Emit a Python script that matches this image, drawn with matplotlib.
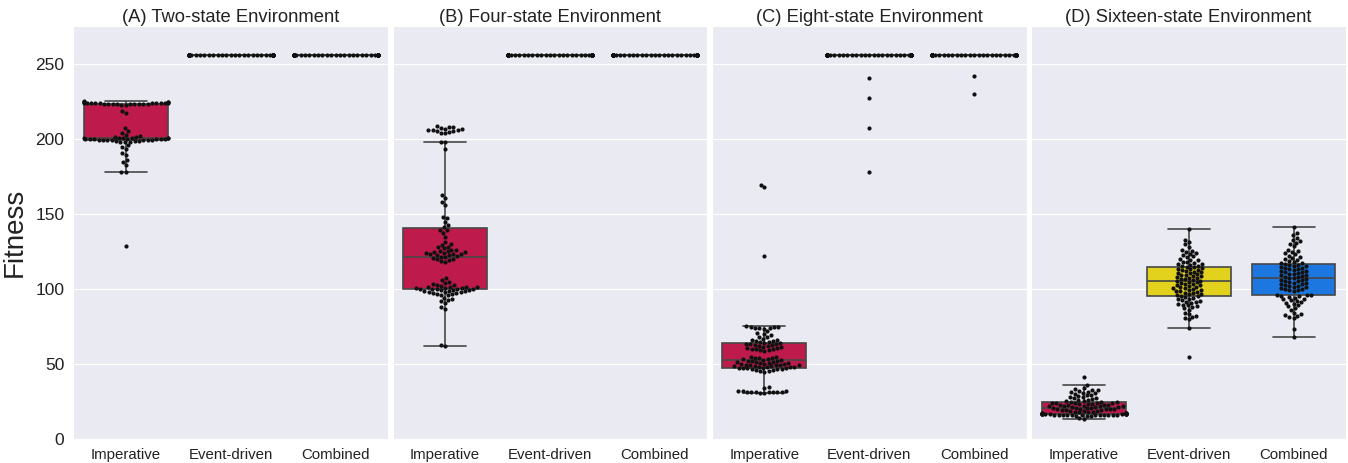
import matplotlib
matplotlib.use("Agg")
import matplotlib.pyplot as plt
import seaborn as sns
import pandas as pd
import warnings
warnings.filterwarnings("ignore")

categories = ["Imperative", "Event-driven", "Combined"]
titles = ["(A) Two-state Environment", "(B) Four-state Environment",
          "(C) Eight-state Environment", "(D) Sixteen-state Environment"]
colors = ["#BE1A4C", "#E2D21E", "#1C78E0"]

all_256 = [256.0] * 100

A_imp = [225.2, 225.0, 224.8, 224.6, 224.5, 224.4, 224.3, 224.2, 224.1, 224.0, 224.0, 223.9,
         223.8, 223.7, 223.6, 223.5, 223.4, 223.3, 223.2, 223.0, 222.8, 224.9, 224.2, 223.6,
         224.0, 223.8,
         219.0, 217.8,
         207.5, 205.5, 204.5,
         203.0, 202.4, 201.8, 201.4, 201.0, 200.8, 200.6, 200.4, 200.2, 200.0, 199.9, 199.8,
         199.6, 199.4, 199.2, 199.0, 198.8, 198.6, 198.4, 198.2, 198.0, 200.7, 200.3, 199.7,
         199.3, 200.9, 200.1, 199.5, 201.1, 200.5,
         196.0, 195.0, 193.5, 191.0, 189.5, 186.0, 185.0, 183.0, 178.5, 178.0,
         129.0]
A_evt = all_256
A_comb = all_256

B_imp = [209.0, 208.5, 208.0, 207.5, 207.0, 206.8, 206.5, 206.2, 206.0, 205.8, 205.5, 205.0,
         204.5, 204.0,
         198.4, 198.0, 193.3,
         162.8, 160.8, 158.2, 156.0,
         148.0, 147.2, 144.8, 143.0, 141.5, 139.6, 139.2,
         137.5, 135.0,
         131.5, 130.5, 129.5, 128.5, 128.0, 127.2, 126.5, 126.0, 125.5, 125.0, 124.6, 124.2,
         123.8, 123.4, 123.0, 122.6, 122.2, 121.8, 121.4, 121.0, 120.5, 120.0, 119.5, 119.0,
         118.5, 124.0, 125.2, 123.2,
         107.5, 106.0, 104.8,
         104.0, 103.5, 103.0, 102.6, 102.2, 101.8, 101.5, 101.2, 101.0, 100.8, 100.5, 100.3,
         100.1, 100.0, 99.9, 99.7, 99.5, 99.3, 99.1, 98.9, 98.7, 98.5, 98.2, 98.0, 97.7, 97.4,
         97.1, 96.8, 96.5, 96.2, 101.6, 100.6,
         94.5, 93.8, 93.0, 92.2, 91.0,
         88.0, 86.8,
         62.8, 62.3]
B_evt = all_256
B_comb = all_256

C_imp = [169.8, 168.5, 122.3,
         75.2, 75.0, 74.8, 74.6, 74.4, 74.2, 74.0, 73.8,
         72.0, 71.0, 70.0, 69.5, 68.5, 68.0, 67.0, 66.5,
         66.0, 65.6, 65.3, 65.0, 64.7, 64.4, 64.1, 63.8, 63.5, 63.2, 62.9, 62.6, 62.3, 62.0,
         61.7, 61.4, 61.1, 60.8, 60.5, 60.2, 59.9, 59.6, 59.3, 59.0,
         55.0, 54.8, 54.5, 54.2, 53.9, 53.6, 53.3, 53.0, 52.7, 52.4, 52.1, 51.8, 51.5, 51.2,
         50.9, 50.6, 50.3, 50.0, 49.8, 49.6, 49.4, 49.2, 49.0, 48.8, 48.6, 48.4, 48.2, 48.0,
         47.8, 47.6, 47.4, 47.2, 47.0, 46.8, 46.6, 50.5, 49.5, 51.0, 52.0, 48.5, 47.5,
         46.2, 45.9, 45.6, 45.3, 45.0,
         34.6, 34.0,
         32.2, 32.0, 31.9, 31.8, 31.7, 31.6, 31.5, 31.4, 31.3, 31.2, 31.1, 31.0]
C_evt = [256.0] * 96 + [241.0, 227.6, 207.2, 178.0]
C_comb = [256.0] * 98 + [242.5, 230.3]

D_imp = [41.5, 36.0,
         34.0, 33.5, 33.0, 32.6, 32.2, 31.8, 31.4, 31.0, 30.6, 30.2,
         29.6, 29.2, 28.8, 28.4, 28.0, 27.6, 27.2, 26.8, 26.4, 26.0,
         25.5, 25.3, 25.1, 24.9, 24.7, 24.5, 24.3, 24.1, 23.9, 23.7, 23.5, 23.3, 23.1, 22.9,
         22.7, 22.5, 22.3, 22.1, 21.9, 21.7, 21.5, 21.3, 21.1, 20.9, 20.7, 20.5, 20.3, 20.1,
         19.9, 19.7, 19.5, 19.3, 19.1, 18.9, 18.7, 18.5, 18.3, 18.1, 17.9, 17.7,
         24.0, 23.0, 22.0, 21.0, 20.0,
         17.5, 17.4, 17.3, 17.2, 17.1, 17.0, 16.9, 16.8, 16.7, 16.6, 16.5, 16.4, 16.3, 16.2,
         16.1, 16.0, 15.9, 15.8, 15.7, 15.6, 17.0, 16.8, 16.6, 16.4, 16.2, 16.0, 16.5, 16.7,
         16.3, 16.9,
         14.0, 13.5]
D_evt = [140.3,
         133.0, 131.5, 130.0, 128.5,
         126.3, 125.5, 124.8, 124.0, 123.3, 122.6, 121.9, 121.2, 120.5, 119.8, 119.2, 118.5,
         118.0, 117.5, 117.0, 116.6, 116.2, 115.8, 115.4, 115.0, 114.6, 114.2, 113.8, 113.4,
         113.0, 112.6, 112.2, 111.8, 111.4, 111.0, 110.6, 110.2,
         109.8, 109.4, 109.0, 108.6, 108.2, 107.8, 107.4, 107.0, 106.6, 106.2, 105.8, 105.4,
         105.0, 104.6, 104.2, 103.8, 103.4, 103.0, 102.6, 102.2, 101.8, 101.4, 101.0, 100.6,
         100.2, 99.8, 99.4, 99.0, 98.6, 98.2, 97.8, 97.4, 97.0, 96.6, 96.2,
         95.8, 95.3, 94.8, 94.3, 93.8, 93.3, 92.8, 92.3, 91.8, 91.3, 90.8, 90.3, 89.8, 89.2,
         88.6, 88.0, 87.3, 86.5,
         84.5, 83.5, 82.5, 81.8, 81.0, 80.0,
         74.0, 55.0]
D_comb = [141.8,
          137.6, 136.0, 134.5, 133.0, 132.0, 131.0, 130.0, 128.8,
          126.0, 125.3, 124.6, 123.9, 123.2, 122.5, 121.8, 121.1, 120.4, 119.7, 119.0, 118.4,
          117.8, 117.2,
          116.8, 116.4, 116.0, 115.6, 115.2, 114.8, 114.4, 114.0, 113.6, 113.2, 112.8, 112.4,
          112.0, 111.6, 111.2, 110.8, 110.4, 110.0, 109.6, 109.2, 108.8, 108.4, 108.0, 107.6,
          107.2, 106.8, 106.4, 106.0,
          105.6, 105.2, 104.8, 104.4, 104.0, 103.6, 103.2, 102.8, 102.4, 102.0, 101.6, 101.2,
          100.8, 100.4, 100.0, 99.6, 99.2, 98.8, 96.4, 96.1, 95.9, 95.7,
          95.5, 95.0, 94.4, 93.8, 93.2, 92.6, 92.0, 91.4, 90.8, 90.2, 89.4, 88.6, 87.6, 86.5,
          84.2, 83.5, 82.8, 82.2, 81.6, 81.0,
          73.8, 68.0]

panels = [(A_imp, A_evt, A_comb), (B_imp, B_evt, B_comb),
          (C_imp, C_evt, C_comb), (D_imp, D_evt, D_comb)]
yticks = [0, 50, 100, 150, 200, 250]

sns.set_style("darkgrid")
plt.rcParams['font.family'] = ['Arial', 'Liberation Sans', 'DejaVu Sans']

fig, axes = plt.subplots(1, 4, figsize=(13.48, 4.63), dpi=100, sharey=True)
fig.subplots_adjust(left=0.0544, right=0.9985, top=0.9438, bottom=0.0512, wspace=0.0146)

for i, (ax, series) in enumerate(zip(axes, panels)):
    rows = []
    for cat, vals in zip(categories, series):
        for v in vals:
            rows.append((cat, v))
    df = pd.DataFrame(rows, columns=["group", "fitness"])
    pal = {c: col for c, col in zip(categories, colors)}
    sns.boxplot(data=df, x="group", y="fitness", hue="group", order=categories,
                hue_order=categories, palette=pal, saturation=1, showfliers=False,
                width=0.8, linewidth=1.2, linecolor="#474747", legend=False, ax=ax)
    sns.swarmplot(data=df, x="group", y="fitness", order=categories, color="#111111",
                  size=3.0, ax=ax)
    ax.set_title(titles[i], fontsize=13.2, color="#222222", pad=3)
    ax.set_xlabel("")
    ax.set_ylim(0, 275.5)
    ax.set_yticks(yticks)
    ax.tick_params(axis="x", labelsize=10.8, colors="#222222", pad=3)
    ax.tick_params(axis="y", labelsize=12.5, colors="#222222", pad=3)
    if i == 0:
        ax.set_ylabel("Fitness", fontsize=20, color="#222222", labelpad=5)
    else:
        ax.set_ylabel("")

fig.savefig("out.png", dpi=100)
